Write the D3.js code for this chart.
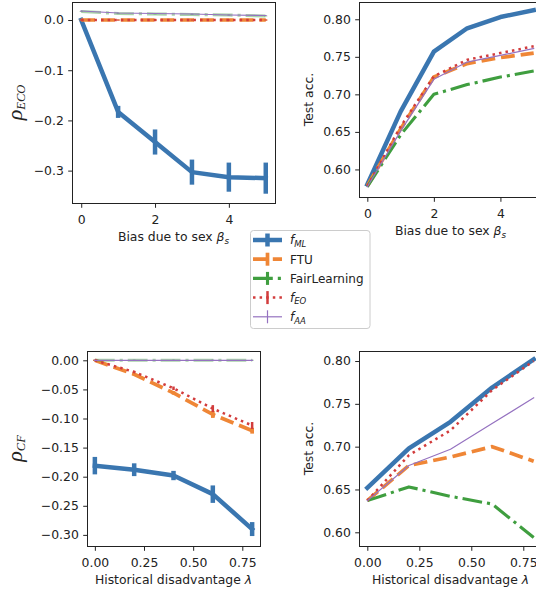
<!DOCTYPE html>
<html>
<head>
<meta charset="utf-8">
<script src="https://cdn.jsdelivr.net/npm/d3@7"></script>
<style>
  body { margin: 0; background: #fff; }
  text { font-family: "DejaVu Sans", sans-serif; fill: #222; }
</style>
</head>
<body>
<div id="fig"></div>
<script>
// x values
const biasX = [0, 1, 2, 3, 4, 5];
const lambdaX = [0, 0.2, 0.4, 0.6, 0.8];

// method order: f_ML, FTU, FairLearning, f_EO, f_AA
const methods = ["ML", "FTU", "FairLearning", "EO", "AA"];

// top left: rho_ECO vs bias due to sex
const ecoVals = [
  [0.0, -0.183, -0.243, -0.303, -0.313, -0.315],
  [0.0, 0.0, 0.0, 0.0, 0.0, 0.0],
  [0.017, 0.013, 0.012, 0.011, 0.010, 0.008],
  [0.0, 0.0, 0.0, 0.0, 0.0, 0.0],
  [0.018, 0.014, 0.013, 0.012, 0.010, 0.009]
];
const ecoErr = [
  [0.002, 0.012, 0.025, 0.025, 0.029, 0.031],
  [0.001, 0.001, 0.001, 0.001, 0.001, 0.001],
  [0.001, 0.001, 0.001, 0.001, 0.001, 0.001],
  [0.001, 0.001, 0.001, 0.001, 0.001, 0.001],
  [0.001, 0.001, 0.001, 0.001, 0.001, 0.001]
];

// top right: test accuracy vs bias due to sex
const accBias = [
  [0.580, 0.677, 0.757, 0.788, 0.803, 0.812],
  [0.578, 0.654, 0.723, 0.741, 0.749, 0.755],
  [0.577, 0.646, 0.700, 0.713, 0.723, 0.731],
  [0.578, 0.657, 0.724, 0.746, 0.755, 0.764],
  [0.577, 0.651, 0.720, 0.743, 0.752, 0.761]
];

// bottom left: rho_CF vs historical disadvantage
const cfVals = [
  [-0.181, -0.188, -0.198, -0.230, -0.290],
  [0.0, -0.024, -0.056, -0.093, -0.121],
  [0.0, 0.0, 0.0, 0.0, 0.0],
  [0.0, -0.020, -0.048, -0.083, -0.112],
  [0.0, 0.0, 0.0, 0.0, 0.0]
];
const cfErr = [
  [0.015, 0.011, 0.008, 0.015, 0.012],
  [0.001, 0.002, 0.003, 0.006, 0.005],
  [0.001, 0.001, 0.001, 0.001, 0.001],
  [0.001, 0.002, 0.003, 0.006, 0.006],
  [0.001, 0.001, 0.001, 0.001, 0.001]
];

// bottom right: test accuracy vs historical disadvantage
const accLambda = [
  [0.652, 0.698, 0.729, 0.769, 0.802],
  [0.637, 0.678, 0.688, 0.700, 0.683],
  [0.637, 0.653, 0.642, 0.633, 0.594],
  [0.637, 0.690, 0.719, 0.766, 0.800],
  [0.637, 0.678, 0.697, 0.727, 0.757]
];

const biasTicks = [0, 2, 4];
const lambdaTicks = [0, 0.25, 0.5, 0.75];

// styles
const colors = ["#3a76b0", "#ef8636", "#3f9e3f", "#d23c3c", "#9572c0"];
const widths = [4.5, 3.7, 3.1, 2.5, 1.2];
const dashes = [null, "13.8,6", "19.8,5,3.1,5", "2.5,4.1", null];

const W = 536, H = 592;
const fontSize = 12.4;

const svg = d3.select("#fig").append("svg")
    .attr("width", W)
    .attr("height", H);

function drawPanel(cfg) {
    let x = d3.scaleLinear().domain(cfg.xDomain).range([cfg.left, cfg.right]);
    let y = d3.scaleLinear().domain(cfg.yDomain).range([cfg.bottom, cfg.top]);
    let g = svg.append("g");

    let line = d3.line()
        .x(d => x(d[0]))
        .y(d => y(d[1]));

    cfg.values.forEach(function (vals, i) {
        let pts = cfg.xs.map((xv, j) => [xv, vals[j]]);
        let op = (cfg.faded && i === 2) ? 0.45 : 1;
        g.append("path")
            .attr("d", line(pts))
            .attr("fill", "none")
            .attr("stroke", colors[i])
            .attr("stroke-width", widths[i])
            .attr("stroke-dasharray", dashes[i])
            .attr("stroke-linejoin", "round")
            .attr("stroke-linecap", dashes[i] ? "butt" : "square")
            .attr("opacity", op);

        if (cfg.errors) {
            g.selectAll(null)
                .data(pts)
                .enter()
                .append("line")
                .attr("x1", d => x(d[0]))
                .attr("x2", d => x(d[0]))
                .attr("y1", (d, j) => y(d[1] - cfg.errors[i][j]))
                .attr("y2", (d, j) => y(d[1] + cfg.errors[i][j]))
                .attr("stroke", colors[i])
                .attr("stroke-width", widths[i])
                .attr("opacity", op);
        }
    });

    // frame
    g.append("rect")
        .attr("x", Math.round(cfg.left) + 0.5)
        .attr("y", Math.round(cfg.top) + 0.5)
        .attr("width", Math.round(cfg.right) - Math.round(cfg.left))
        .attr("height", Math.round(cfg.bottom) - Math.round(cfg.top))
        .attr("fill", "none")
        .attr("stroke", "#222")
        .attr("stroke-width", 1);

    let xAxis = g.append("g")
        .attr("transform", "translate(0," + (Math.round(cfg.bottom) + 0.5) + ")")
        .call(d3.axisBottom(x).tickValues(cfg.xTicks).tickFormat(cfg.xFormat)
            .tickSize(4.3).tickPadding(7));
    let yAxis = g.append("g")
        .attr("transform", "translate(" + (Math.round(cfg.left) + 0.5) + ",0)")
        .call(d3.axisLeft(y).tickValues(cfg.yTicks).tickFormat(cfg.yFormat)
            .tickSize(4.3).tickPadding(4.4));

    [xAxis, yAxis].forEach(function (a) {
        a.select(".domain").remove();
        a.attr("font-family", null).attr("font-size", null);
        a.selectAll(".tick line").attr("stroke", "#222");
        a.selectAll(".tick text")
            .style("font-size", fontSize + "px")
            .attr("fill", "#222");
    });

    // x label
    let cx = (cfg.left + cfg.right) / 2;
    let xl = g.append("text")
        .attr("x", cx)
        .attr("y", cfg.bottom + 38)
        .attr("text-anchor", "middle")
        .style("font-size", fontSize + "px");
    cfg.xLabel(xl);

    // y label
    let cy = (cfg.top + cfg.bottom) / 2;
    let yl = g.append("text")
        .attr("transform", "translate(" + cfg.yLabelX + "," + cy + ") rotate(-90)")
        .attr("text-anchor", "middle");
    cfg.yLabel(yl);
}

function biasLabel(t) {
    t.append("tspan").text("Bias due to sex ");
    t.append("tspan").style("font-style", "italic").text("β");
    t.append("tspan").style("font-style", "italic").style("font-size", "8.8px")
        .attr("dy", 2.6).text("s");
}

function lambdaLabel(t) {
    t.append("tspan").text("Historical disadvantage ");
    t.append("tspan").style("font-style", "italic").text("λ");
}

function rhoLabel(sub) {
    return function (t) {
        t.style("font-family", "'Liberation Serif', serif").style("font-style", "italic");
        t.append("tspan").style("font-size", "22px").text("ρ");
        t.append("tspan").style("font-size", "12.5px").attr("dy", 3.8).text(sub);
    };
}

function accLabel(t) {
    t.style("font-size", fontSize + "px").text("Test acc.");
}

drawPanel({
    left: 72, right: 275, top: 2, bottom: 203,
    xDomain: [-0.25, 5.25], yDomain: [-0.3645, 0.0359],
    xs: biasX, values: ecoVals, errors: ecoErr, faded: true,
    xTicks: biasTicks, xFormat: d3.format("d"),
    yTicks: [0, -0.1, -0.2, -0.3], yFormat: d3.format(".1f"),
    xLabel: biasLabel, yLabel: rhoLabel("ECO"), yLabelX: 21.5
});

drawPanel({
    left: 359, right: 542, top: 2, bottom: 197,
    xDomain: [-0.25, 5.25], yDomain: [0.5633, 0.823],
    xs: biasX, values: accBias, errors: null, faded: false,
    xTicks: biasTicks, xFormat: d3.format("d"),
    yTicks: [0.60, 0.65, 0.70, 0.75, 0.80], yFormat: d3.format(".2f"),
    xLabel: biasLabel, yLabel: accLabel, yLabelX: 313
});

drawPanel({
    left: 87, right: 260, top: 351, bottom: 546,
    xDomain: [-0.04, 0.84], yDomain: [-0.3191, 0.0160],
    xs: lambdaX, values: cfVals, errors: cfErr, faded: true,
    xTicks: lambdaTicks, xFormat: d3.format(".2f"),
    yTicks: [0, -0.05, -0.1, -0.15, -0.2, -0.25, -0.3], yFormat: d3.format(".2f"),
    xLabel: lambdaLabel, yLabel: rhoLabel("CF"), yLabelX: 21.5
});

drawPanel({
    left: 359, right: 542, top: 351, bottom: 546,
    xDomain: [-0.04, 0.84], yDomain: [0.584, 0.8117],
    xs: lambdaX, values: accLambda, errors: null, faded: false,
    xTicks: lambdaTicks, xFormat: d3.format(".2f"),
    yTicks: [0.60, 0.65, 0.70, 0.75, 0.80], yFormat: d3.format(".2f"),
    xLabel: lambdaLabel, yLabel: accLabel, yLabelX: 313
});

// legend
const legend = svg.append("g");
legend.append("rect")
    .attr("x", 250.5).attr("y", 230.5)
    .attr("width", 119.5).attr("height", 98)
    .attr("rx", 3)
    .attr("fill", "#fff").attr("fill-opacity", 0.8)
    .attr("stroke", "#ccc").attr("stroke-width", 1);

methods.forEach(function (m, i) {
    let ly = 240 + i * 19.2;
    let item = legend.append("g");
    item.append("line")
        .attr("x1", 253).attr("x2", 282)
        .attr("y1", ly).attr("y2", ly)
        .attr("stroke", colors[i])
        .attr("stroke-width", widths[i])
        .attr("stroke-dasharray", dashes[i]);
    item.append("line")
        .attr("x1", 267.5).attr("x2", 267.5)
        .attr("y1", ly - 6.5).attr("y2", ly + 6.5)
        .attr("stroke", colors[i])
        .attr("stroke-width", widths[i]);
    let t = item.append("text")
        .attr("x", 290).attr("y", ly + 4.4)
        .style("font-size", "12px");
    if (m === "FTU" || m === "FairLearning") {
        t.text(m);
    } else {
        t.append("tspan").style("font-style", "italic").text("f");
        t.append("tspan").style("font-style", "italic").style("font-size", "8.5px")
            .attr("dy", 2.4).text(m);
    }
});
</script>
</body>
</html>
